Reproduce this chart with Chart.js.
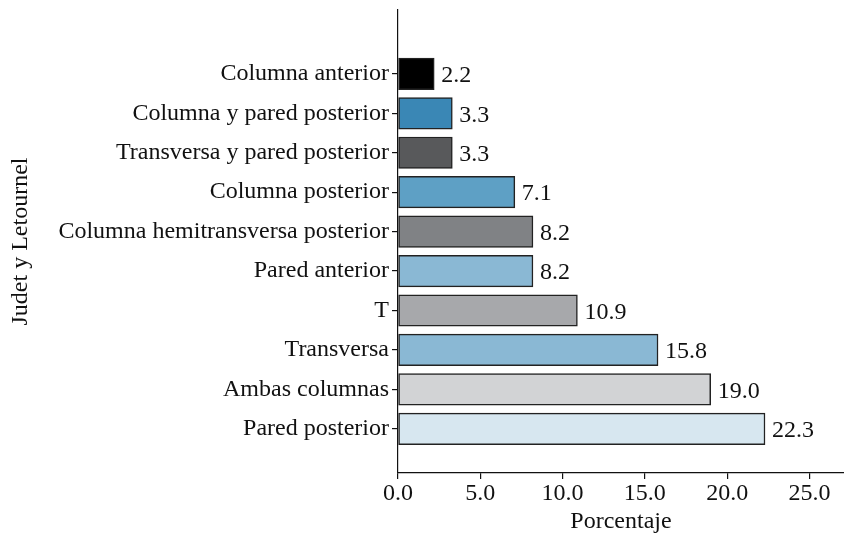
<!DOCTYPE html>
<html>
<head>
<meta charset="utf-8">
<script src="https://cdn.jsdelivr.net/npm/chart.js@4/dist/chart.umd.min.js"></script>
<style>
html,body{margin:0;padding:0;background:#fff;}
#wrap{width:844px;height:534px;position:relative;}
</style>
</head>
<body>
<div id="wrap"><canvas id="c" width="844" height="534"></canvas></div>
<script>
// Data (bottom to top)
const categories = ["Pared posterior","Ambas columnas","Transversa","T","Pared anterior","Columna hemitransversa posterior","Columna posterior","Transversa y pared posterior","Columna y pared posterior","Columna anterior"];
const values = [22.3, 19.0, 15.8, 10.9, 8.2, 8.2, 7.1, 3.3, 3.3, 2.2];
const barColors = ["#d7e7f0","#d2d3d5","#8ab8d4","#a7a8ab","#8ab8d4","#808285","#5ea0c5","#58595b","#3a87b5","#000000"];
const xTicks = [0, 5, 10, 15, 20, 25];
const xTitle = "Porcentaje";
const yTitle = "Judet y Letournel";

const FONT = "'Liberation Serif', 'Times New Roman', serif";
const FS = 24;

const valueLabels = {
  id: 'valueLabels',
  afterDatasetsDraw(chart) {
    const ctx = chart.ctx;
    const meta = chart.getDatasetMeta(0);
    ctx.save();
    ctx.font = FS + "px " + FONT;
    ctx.fillStyle = "#111";
    ctx.textBaseline = "middle";
    ctx.textAlign = "left";
    meta.data.forEach((el, i) => {
      ctx.fillText(values[i].toFixed(1), el.x + 7, el.y + 2);
    });
    ctx.restore();
  }
};

new Chart(document.getElementById('c'), {
  type: 'bar',
  data: {
    datasets: [{
      data: values.map((v, i) => ({x: v, y: i})),
      backgroundColor: barColors,
      borderColor: "#222222",
      borderWidth: 1.5,
      borderSkipped: false,
      barThickness: 31.5
    }]
  },
  options: {
    indexAxis: 'y',
    responsive: false,
    animation: false,
    devicePixelRatio: 1,
    layout: {padding: {top: 10, right: 0, left: 0, bottom: 0}},
    plugins: {legend: {display: false}, tooltip: {enabled: false}},
    scales: {
      x: {
        type: 'linear',
        min: 0,
        max: 27.1,
        afterBuildTicks: (s) => { s.ticks = xTicks.map(v => ({value: v})); },
        afterFit: (s) => { s.height = 61; s.paddingLeft = 0; s.paddingRight = 0; },
        ticks: {
          callback: (v) => Number(v).toFixed(1),
          color: "#111",
          font: {family: FONT, size: FS},
          padding: 0,
          maxRotation: 0
        },
        grid: {drawOnChartArea: false, drawTicks: true, tickLength: 6, color: "#111", lineWidth: 1.2},
        border: {display: true, color: "#111", width: 1.2},
        title: {display: true, text: xTitle, color: "#111", font: {family: FONT, size: FS}, padding: {top: 0, bottom: -2}}
      },
      y: {
        type: 'linear',
        offset: false,
        min: -1.12,
        max: 10.62,
        afterBuildTicks: (s) => { s.ticks = categories.map((c, i) => ({value: i})); },
        afterFit: (s) => { s.width = 398; s.paddingTop = 0; s.paddingBottom = 0; },
        ticks: {
          callback: (v) => categories[v],
          color: "#111",
          font: {family: FONT, size: FS},
          padding: 3,
          autoSkip: false
        },
        grid: {offset: false, drawOnChartArea: false, drawTicks: true, tickLength: 6, color: "#111", lineWidth: 1.2},
        border: {display: true, color: "#111", width: 1.2},
        title: {display: true, text: yTitle, color: "#111", font: {family: FONT, size: FS}, padding: {top: 6, bottom: 0}}
      }
    }
  },
  plugins: [valueLabels]
});
</script>
</body>
</html>
